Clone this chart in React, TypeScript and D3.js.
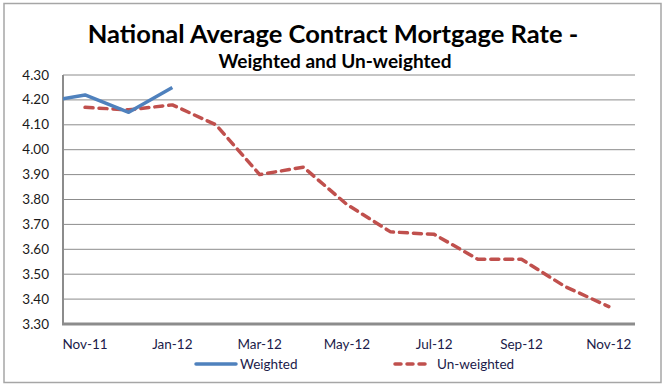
import React from 'react'
import * as d3 from 'd3'

// month index 0 = Nov-11 ... 12 = Nov-12 (weighted has an Oct-11 point, clipped at the left edge)
const months = ['Nov-11', 'Dec-11', 'Jan-12', 'Feb-12', 'Mar-12', 'Apr-12', 'May-12', 'Jun-12', 'Jul-12', 'Aug-12', 'Sep-12', 'Oct-12', 'Nov-12']
const weightedIdx = [-1, 0, 1, 2]
const weighted = [4.19, 4.22, 4.15, 4.25]
const unweighted = [4.17, 4.16, 4.18, 4.1, 3.9, 3.93, 3.78, 3.67, 3.66, 3.56, 3.56, 3.45, 3.37]
const yTicks = [3.3, 3.4, 3.5, 3.6, 3.7, 3.8, 3.9, 4.0, 4.1, 4.2, 4.3]
const xLabelIdx = [0, 2, 4, 6, 8, 10, 12]

const W = 666
const H = 387
const left = 63, right = 635, top = 75, bottom = 324
const font = 'Lato, "Open Sans", sans-serif'

function App() {
  const x = d3.scaleLinear().domain([-0.505, 12.6]).range([left, right])
  const y = d3.scaleLinear().domain([3.3, 4.3]).range([bottom, top])

  const wLine = d3.line<number>()
    .x((d, i) => x(weightedIdx[i]))
    .y(d => y(d))
  const uLine = d3.line<number>()
    .x((d, i) => x(i))
    .y(d => y(d))

  return (
    <svg width={W} height={H} style={{position: 'absolute', left: 0, top: 0}}>
      <rect x={0} y={0} width={W} height={H} fill='white' />
      <rect x={4} y={3.5} width={657} height={379} fill='white' stroke='#a6a6a6' strokeWidth={1.5} />

      <text x={333} y={43} textAnchor='middle' fontFamily={font} fontWeight='bold' fontSize={25.5} fill='#000'>
        National Average Contract Mortgage Rate -
      </text>
      <text x={335} y={68} textAnchor='middle' fontFamily={font} fontWeight='bold' fontSize={19} fill='#000'>
        Weighted and Un-weighted
      </text>

      <defs>
        <clipPath id='plotClip'>
          <rect x={left} y={top - 10} width={right - left} height={bottom - top + 10} />
        </clipPath>
      </defs>

      <g className='grid'>
        {yTicks.map(t => (
          <line key={t} x1={left} x2={right} y1={y(t)} y2={y(t)} stroke='#8c8c8c' strokeWidth={1} />
        ))}
      </g>
      <line x1={left} x2={left} y1={top} y2={bottom} stroke='#8c8c8c' strokeWidth={2} />
      <line x1={left - 1} x2={right} y1={bottom} y2={bottom} stroke='#8c8c8c' strokeWidth={3} />

      <g className='yLabels'>
        {yTicks.map(t => (
          <text key={t} x={49} y={y(t) + 4.5} textAnchor='end' fontFamily={font} fontSize={13.5} fill='#1a1a1a'>
            {t.toFixed(2)}
          </text>
        ))}
      </g>
      <g className='xLabels'>
        {xLabelIdx.map(i => (
          <text key={i} x={x(i)} y={349} textAnchor='middle' fontFamily={font} fontSize={13.5} fill='#1b1b4a'>
            {months[i]}
          </text>
        ))}
      </g>

      <g clipPath='url(#plotClip)'>
        <path d={uLine(unweighted) || ''} fill='none' stroke='#c0504d' strokeWidth={3.5}
          strokeDasharray='8 6' strokeLinecap='round' strokeLinejoin='round' />
        <path d={wLine(weighted) || ''} fill='none' stroke='#4f81bd' strokeWidth={3.5}
          strokeLinejoin='round' />
      </g>

      <g className='legend'>
        <line x1={196} x2={236} y1={364} y2={364} stroke='#4f81bd' strokeWidth={3.5} strokeLinecap='round' />
        <text x={240} y={368.5} fontFamily={font} fontSize={13.5} fill='#1b1b4a'>Weighted</text>
        <line x1={395} x2={429} y1={364} y2={364} stroke='#c0504d' strokeWidth={3.5}
          strokeDasharray='6 6' strokeLinecap='round' />
        <text x={437} y={368.5} fontFamily={font} fontSize={13.5} fill='#1b1b4a'>Un-weighted</text>
      </g>
    </svg>
  )
}

export default App
